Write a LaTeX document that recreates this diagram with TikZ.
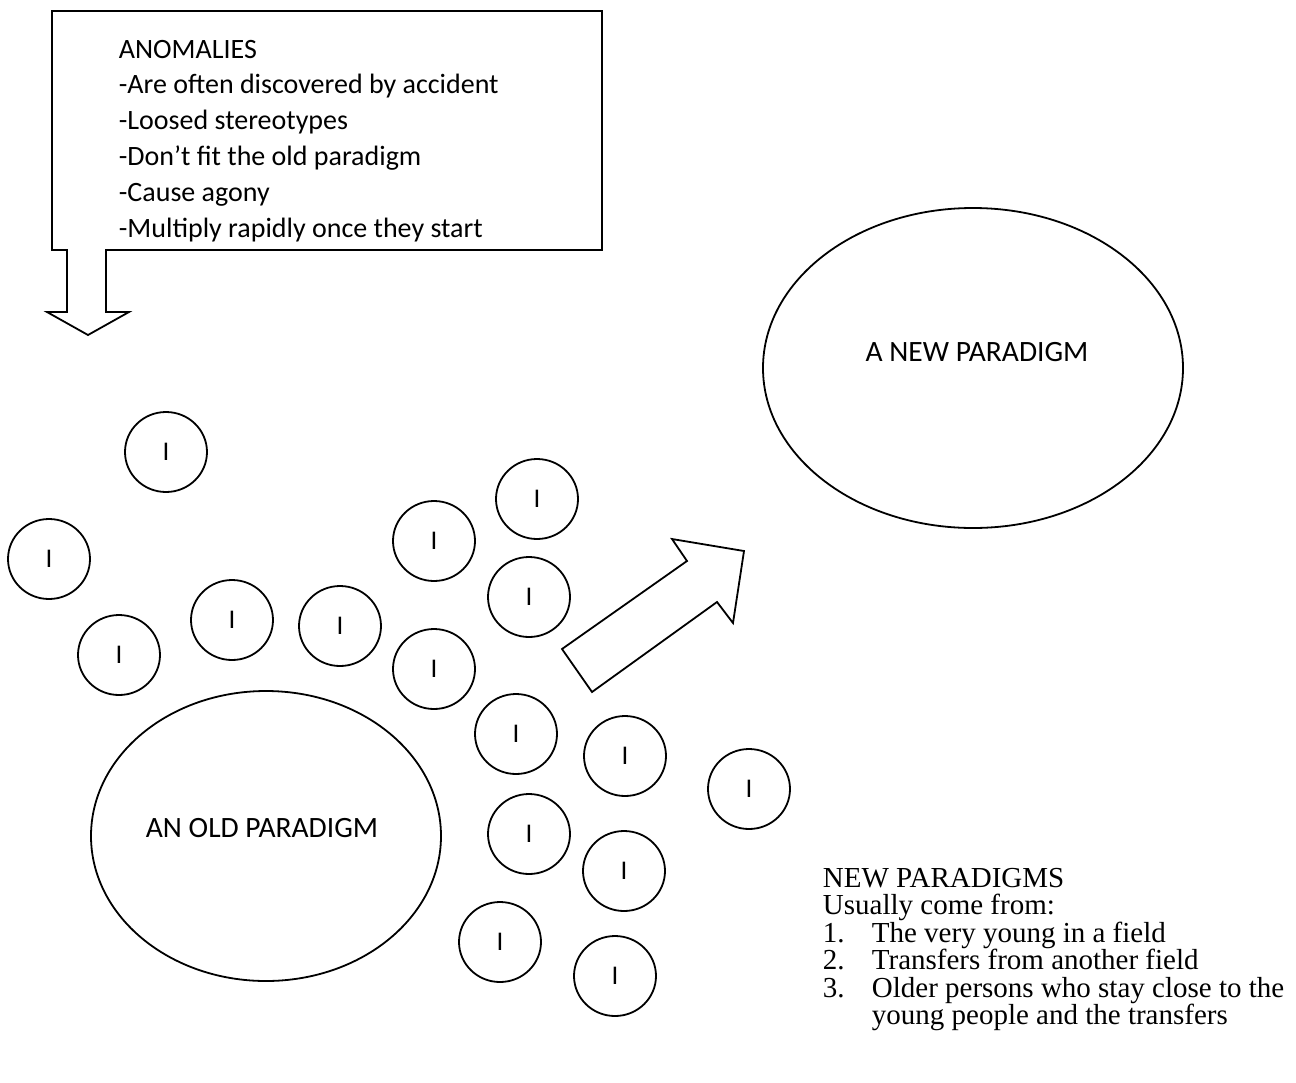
\documentclass[tikz,border=0pt]{standalone}
\usepackage{fontspec}
\setmainfont{Carlito}
\newfontfamily\timesfont{Liberation Serif}
\usetikzlibrary{shapes.geometric}
\newcommand{\numero}[1]{\makebox[49pt][l]{#1}}
\begin{document}
\begin{tikzpicture}[x=1pt,y=-1pt,line width=1.8pt,
  texte/.style={font=\fontsize{28}{35.8}\selectfont},
  petit/.style={draw,ellipse,minimum width=82pt,minimum height=80pt,inner sep=0pt,font=\fontsize{27}{32}\selectfont},
  grand/.style={draw,ellipse,inner sep=0pt}]
\useasboundingbox (0,0) rectangle (1296,1082);
\node[draw,rectangle,minimum width=550pt,minimum height=239pt,anchor=north west] (cadre) at (51,10) {}; %Cadre des anomalies
\node[texte,anchor=north west,align=left,inner sep=0pt] (anomalies) at (118,39) {ANOMALIES\\-Are often discovered by accident\\-Loosed stereotypes\\-Don’t fit the old paradigm\\-Cause agony\\-Multiply rapidly once they start};
\draw[fill=white] (67,249) -- (67,312) -- (47,312) -- (88,335) -- (129,312) -- (106,312) -- (106,249); %Fleche vers le bas
\node[grand,minimum width=420pt,minimum height=320pt] (nouveau) at (973,368) {}; %Nouveau paradigme
\node[font=\fontsize{29.5}{34}\selectfont] (tnouveau) at (977,352) {A NEW PARADIGM};
\node[grand,minimum width=350pt,minimum height=290pt] (ancien) at (266,836) {}; %Ancien paradigme
\node[font=\fontsize{29.5}{34}\selectfont] (tancien) at (262,828) {AN OLD PARADIGM};
\foreach \x/\y [count=\i] in {166/452,49/559,119/655,232/620,340/626,434/541,537/499,529/597,434/669,516/734,625/756,749/789,529/834,624/871,500/942,615/976}
  \node[petit] (i\i) at (\x,\y) {I}; %Anomalies
\draw (562,649) -- (687,561) -- (672,539) -- (744,551) -- (733,623) -- (717,602) -- (592,692) -- cycle; %Grande fleche
\node[anchor=north west,inner sep=0pt,align=left,font=\timesfont\fontsize{29}{27.5}\selectfont] (sources) at (822,867) {NEW PARADIGMS\\Usually come from:\\\numero{1.}The very young in a field\\\numero{2.}Transfers from another field\\\numero{3.}Older persons who stay close to the\\\numero{}young people and the transfers};
\end{tikzpicture}
\end{document}
